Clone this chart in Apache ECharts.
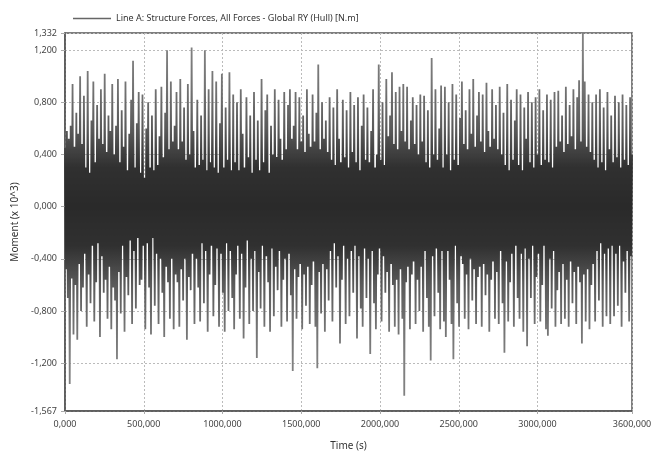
<!DOCTYPE html>
<html>
<head>
<meta charset="utf-8">
<title>Line A moment</title>
<script src="https://cdn.jsdelivr.net/npm/echarts@6/dist/echarts.min.js"></script>
<style>
  html, body { margin: 0; padding: 0; background: #fff; }
  #chart { width: 661px; height: 456px; }
</style>
</head>
<body>
<div id="chart"></div>
<script>
// moment values (x 10^3 N.m), equally spaced over 0..3600 s
var moment = [
  0.45, -0.48, 0.58, -0.70, 0.52, -1.36, 0.62, -0.55, 0.94, -0.98, 0.46, -0.60, 0.72, -1.02, 0.56, -0.44, 1.00, -0.80, 0.48, -0.62,
  0.85, -0.36, 0.30, -0.92, 1.04, -0.52, 0.26, -0.74, 0.66, -0.30, 0.96, -0.88, 0.34, -0.58, 0.78, -0.28, 0.52, -1.00, 0.90, -0.38,
  0.48, -0.66, 1.02, -0.56, 0.42, -0.86, 0.70, -0.46, 0.58, -0.94, 0.94, -0.62, 0.40, -0.72, 0.62, -1.17, 0.98, -0.50, 0.34, -0.82,
  0.74, -0.30, 0.46, -0.96, 0.96, -0.54, 0.28, -0.68, 0.56, -0.26, 0.82, -0.90, 1.12, -0.34, 0.30, -0.78, 0.64, -0.24, 0.88, -0.60,
  0.26, -0.56, 0.86, -0.30, 0.22, -0.94, 0.60, -0.28, 0.80, -0.62, 0.30, -0.98, 0.70, -0.24, 0.28, -0.76, 0.90, -0.36, 0.32, -0.90,
  0.54, -0.40, 0.92, -0.66, 0.38, -1.00, 0.72, -0.46, 1.20, -0.58, 0.44, -0.86, 0.96, -0.40, 0.50, -0.94, 0.62, -0.52, 0.88, -0.58,
  0.44, -0.92, 0.98, -0.48, 0.50, -0.72, 0.76, -0.40, 0.36, -1.02, 0.94, -0.54, 0.40, -0.64, 1.22, -0.36, 0.58, -0.90, 0.30, -0.40,
  0.82, -0.62, 0.32, -0.88, 0.70, -0.28, 0.36, -0.74, 1.20, -0.34, 0.28, -0.96, 0.90, -0.52, 0.34, -0.30, 1.04, -0.84, 0.30, -0.60,
  0.96, -0.32, 0.26, -0.92, 0.64, -0.36, 1.02, -0.66, 0.30, -0.96, 0.76, -0.28, 0.36, -0.80, 1.03, -0.34, 0.28, -0.70, 0.86, -0.94,
  0.34, -0.52, 0.80, -0.30, 0.28, -0.86, 0.90, -0.36, 0.56, -1.01, 0.30, -0.62, 0.84, -0.26, 0.38, -0.90, 0.70, -0.40, 0.26, -0.80,
  0.88, -0.34, 0.36, -1.16, 0.66, -0.50, 0.28, -0.78, 0.98, -0.30, 0.34, -0.92, 0.74, -0.38, 0.86, -0.58, 0.26, -0.96, 0.62, -0.32,
  0.40, -0.84, 0.90, -0.46, 0.38, -0.64, 0.82, -0.34, 0.52, -0.92, 0.36, -0.56, 0.88, -0.40, 0.44, -0.88, 0.78, -0.36, 0.90, -0.68,
  0.52, -1.26, 0.62, -0.48, 0.88, -0.86, 0.44, -0.54, 0.84, -0.44, 0.50, -0.94, 0.70, -0.52, 0.42, -0.76, 0.90, -0.46, 0.56, -0.90,
  0.46, -0.60, 0.86, -0.42, 0.50, -0.92, 0.72, -1.24, 1.09, -0.50, 0.44, -0.82, 0.80, -0.44, 0.52, -0.96, 0.66, -0.48, 0.42, -0.72,
  0.84, -0.34, 0.36, -0.88, 0.76, -0.28, 0.32, -0.62, 0.90, -0.38, 0.52, -1.05, 0.34, -0.56, 0.82, -0.30, 0.38, -0.90, 0.74, -0.40,
  0.30, -0.84, 0.88, -0.34, 0.42, -0.66, 0.78, -0.30, 0.34, -1.01, 0.84, -0.38, 0.28, -0.78, 0.62, -0.92, 0.86, -0.32, 0.36, -0.70,
  0.76, -0.40, 0.34, -1.13, 0.58, -0.34, 0.90, -0.74, 0.30, -0.94, 0.40, -0.52, 1.09, -0.32, 0.36, -0.88, 0.80, -0.38, 0.32, -0.66,
  0.98, -0.50, 0.54, -0.96, 0.70, -0.44, 1.03, -0.60, 0.48, -0.92, 0.88, -0.56, 0.44, -0.98, 0.92, -0.48, 0.58, -0.86, 0.94, -1.45,
  0.50, -0.58, 0.92, -0.46, 0.44, -0.94, 0.66, -0.52, 0.84, -0.42, 0.48, -0.90, 0.78, -0.56, 0.40, -0.80, 0.86, -0.46, 0.50, -0.96,
  0.85, -0.34, 0.34, -0.70, 0.74, -0.92, 0.30, -1.18, 1.14, -0.38, 0.40, -0.84, 0.90, -0.32, 0.36, -0.66, 0.60, -0.94, 0.93, -0.34,
  0.30, -0.88, 0.92, -1.00, 0.40, -0.34, 0.80, -0.56, 0.28, -0.90, 0.94, -1.17, 0.36, -0.30, 0.86, -0.74, 0.32, -0.92, 0.68, -0.38,
  0.96, -0.44, 0.48, -0.86, 0.74, -0.52, 0.44, -0.94, 0.90, -0.40, 0.56, -0.72, 0.98, -0.48, 0.46, -0.90, 0.70, -0.54, 0.88, -0.46,
  0.50, -0.92, 0.86, -0.44, 0.42, -0.68, 0.95, -0.52, 0.58, -0.96, 0.46, -0.56, 0.90, -0.42, 0.52, -0.86, 0.78, -0.50, 0.44, -0.90,
  0.92, -0.34, 0.40, -0.74, 0.72, -1.12, 0.32, -0.42, 0.94, -0.88, 0.28, -0.58, 0.82, -0.36, 0.36, -0.92, 0.66, -0.30, 0.90, -0.70,
  0.32, -0.86, 0.86, -0.36, 0.28, -0.96, 0.76, -0.32, 0.52, -1.07, 0.88, -0.40, 0.34, -0.70, 0.80, -0.30, 0.30, -0.90, 0.84, -0.54,
  0.40, -0.36, 0.90, -0.88, 0.32, -0.60, 0.74, -0.30, 0.36, -0.94, 0.86, -0.99, 0.34, -0.40, 0.82, -0.78, 0.30, -0.34, 0.88, -0.92,
  0.46, -0.64, 0.89, -0.50, 0.50, -0.90, 0.70, -0.44, 0.42, -0.86, 0.92, -0.56, 0.48, -0.92, 0.78, -0.42, 0.54, -0.74, 0.90, -0.50,
  0.44, -0.90, 0.84, -0.46, 0.97, -0.58, 0.50, -1.05, 1.332, -0.52, 0.96, -0.88, 0.46, -0.48, 0.86, -0.94, 0.42, -0.60, 0.80, -0.44,
  0.36, -0.88, 0.86, -0.34, 0.30, -0.72, 0.90, -0.28, 0.34, -0.92, 0.76, -0.36, 0.28, -0.84, 0.88, -0.32, 0.44, -0.90, 0.70, -0.30,
  0.34, -0.84, 0.85, -0.36, 0.38, -0.76, 0.80, -0.30, 0.30, -0.92, 0.86, -0.42, 0.36, -0.66, 0.78, -0.34, 0.32, -0.88, 0.84, -0.38,
  0.40
];
var timeEnd = 3600;
var xTicks = [0, 500, 1000, 1500, 2000, 2500, 3000, 3600];
var yTicks = [-1.567, -1.2, -0.8, -0.4, 0, 0.4, 0.8, 1.2, 1.332];
var yMin = -1.567, yMax = 1.332;
var seriesName = "Line A: Structure Forces, All Forces - Global RY (Hull) [N.m]";

var step = timeEnd / (moment.length - 1);
var points = moment.map(function (v, i) { return [i * step, v]; });

var font = "Noto Sans";
var chart = echarts.init(document.getElementById("chart"), null, { renderer: "canvas" });

chart.setOption({
  animation: false,
  textStyle: { fontFamily: font },
  legend: {
    data: [{ name: seriesName, icon: "rect" }],
    left: 68,
    top: 9,
    itemWidth: 38,
    itemHeight: 1.5,
    itemGap: 6,
    itemStyle: { color: "#666" },
    textStyle: { fontSize: 9, color: "#333", fontFamily: font }
  },
  // dark where the trace is densest, lighter grey out on the spikes
  visualMap: {
    show: false,
    type: "continuous",
    dimension: 1,
    seriesIndex: 0,
    min: -1.2,
    max: 1.2,
    inRange: { color: ["#808080", "#727272", "#5a5a5a", "#303030", "#2a2a2a", "#303030", "#5a5a5a", "#727272", "#808080"] },
    outOfRange: { color: "#808080" }
  },
  grid: {
    left: 65, right: 29, top: 33, bottom: 40,
    show: true,
    borderColor: "#555",
    borderWidth: 1.5
  },
  xAxis: {
    type: "value",
    min: 0,
    max: timeEnd,
    name: "Time (s)",
    nameLocation: "middle",
    nameGap: 30,
    nameTextStyle: { fontSize: 10, color: "#333" },
    axisLine: { show: true, onZero: false, lineStyle: { color: "#555", width: 1.5 } },
    axisTick: { show: true, length: 3, lineStyle: { color: "#aaa" }, customValues: xTicks },
    axisLabel: {
      fontSize: 9, color: "#444", margin: 9,
      customValues: xTicks,
      formatter: function (v) { return v + ",000"; }
    },
    splitLine: { show: true, lineStyle: { color: "#bbb", type: [2, 2], width: 1 } }
  },
  yAxis: {
    type: "value",
    min: yMin,
    max: yMax,
    name: "Moment (x 10^3)",
    nameLocation: "middle",
    nameGap: 40,
    nameTextStyle: { fontSize: 10, color: "#333" },
    axisLine: { show: true, lineStyle: { color: "#555", width: 1.5 } },
    axisTick: { show: true, length: 4, lineStyle: { color: "#aaa" }, customValues: yTicks },
    axisLabel: {
      fontSize: 9, color: "#444", margin: 8,
      customValues: yTicks,
      formatter: function (v) { return v.toFixed(3).replace(".", ","); }
    },
    splitLine: { show: true, lineStyle: { color: "#bbb", type: [2, 2], width: 1 } }
  },
  series: [
    {
      name: seriesName,
      type: "line",
      data: points,
      symbol: "none",
      showSymbol: false,
      sampling: null,
      lineStyle: { width: 1.8 }
    }
  ]
});
</script>
</body>
</html>
